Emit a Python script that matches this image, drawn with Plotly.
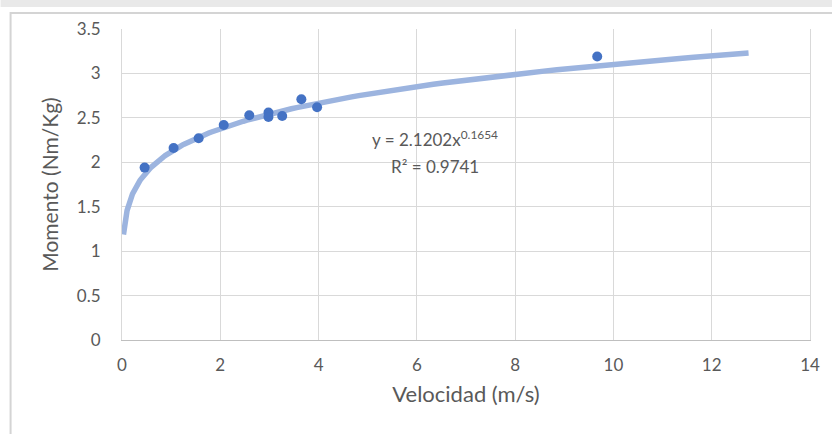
import numpy as np
import plotly.graph_objects as go

# Data
velocidad = [0.46, 1.05, 1.56, 2.07, 2.59, 2.98, 2.98, 3.26, 3.65, 3.97, 9.67]
momento = [1.94, 2.16, 2.27, 2.42, 2.53, 2.56, 2.51, 2.52, 2.71, 2.62, 3.19]

# Power trendline coefficients as printed on the chart
coef_a = 2.1202
coef_b = 0.1654
r2 = 0.9741
trend_x_start = 0.03
trend_x_end = 12.75

x_ticks = [0, 2, 4, 6, 8, 10, 12, 14]
y_ticks = [0, 0.5, 1, 1.5, 2, 2.5, 3, 3.5]

W, H = 832, 434
ML, MR, MT, MB = 121.5, 22, 29, 94
PW, PH = W - ML - MR, H - MT - MB


def px_x(p):
    return (p - ML) / PW


def px_y(p):
    return (H - MB - p) / PH


tx = np.linspace(np.log(trend_x_start), np.log(trend_x_end), 200)
tx = np.exp(tx)
ty = coef_a * tx ** coef_b

fig = go.Figure()
fig.add_trace(go.Scatter(x=tx, y=ty, mode="lines",
                         line=dict(color="#9CB4DF", width=5.5),
                         hoverinfo="skip", showlegend=False))
fig.add_trace(go.Scatter(x=velocidad, y=momento, mode="markers",
                         marker=dict(color="#4472C4", size=10),
                         showlegend=False))

font_main = "Lato, 'Open Sans', sans-serif"
grey = "#595959"

fig.update_layout(
    width=W, height=H,
    margin=dict(l=ML, r=MR, t=MT, b=MB),
    paper_bgcolor="white", plot_bgcolor="white",
    font=dict(family=font_main, color=grey, size=17),
    xaxis=dict(range=[0, 14], tickvals=x_ticks, ticktext=[str(v) for v in x_ticks],
               showgrid=True, gridcolor="#D9D9D9", gridwidth=1, zeroline=False,
               showline=True, linecolor="#BFBFBF", linewidth=1,
               ticks="", ticklabelstandoff=10,
               tickfont=dict(size=17, color=grey),
               title=dict(text="Velocidad (m/s)", font=dict(size=22, color=grey), standoff=12)),
    yaxis=dict(range=[0, 3.5], tickvals=y_ticks, ticktext=["0", "0.5", "1", "1.5", "2", "2.5", "3", "3.5"],
               showgrid=True, gridcolor="#D9D9D9", gridwidth=1, zeroline=False,
               showline=True, linecolor="#D9D9D9", linewidth=1, mirror=True,
               ticks="", ticklabelstandoff=17,
               tickfont=dict(size=17, color=grey),
               title=dict(text="Momento (Nm/Kg)", font=dict(size=21, color=grey), standoff=12)),
    shapes=[
        dict(type="rect", xref="paper", yref="paper",
             x0=px_x(0), x1=px_x(W), y0=px_y(7), y1=px_y(0),
             fillcolor="#E9E9E9", line=dict(width=0), layer="above"),
        dict(type="rect", xref="paper", yref="paper",
             x0=px_x(10), x1=px_x(W + 10), y0=px_y(H + 10), y1=px_y(13),
             fillcolor="rgba(0,0,0,0)", line=dict(color="#D4D4D4", width=2), layer="above"),
    ],
    annotations=[
        dict(x=px_x(435), y=px_y(138), xref="paper", yref="paper", showarrow=False,
             text="y = 2.1202x<sup>0.1654</sup>", font=dict(size=17, color=grey),
             xanchor="center", yanchor="middle"),
        dict(x=px_x(435), y=px_y(166), xref="paper", yref="paper", showarrow=False,
             text="R² = 0.9741", font=dict(size=17, color=grey),
             xanchor="center", yanchor="middle"),
    ],
)

fig.write_html("out.html", config={"displayModeBar": False},
               post_script="document.body.style.margin='0';document.body.style.overflow='hidden';")
